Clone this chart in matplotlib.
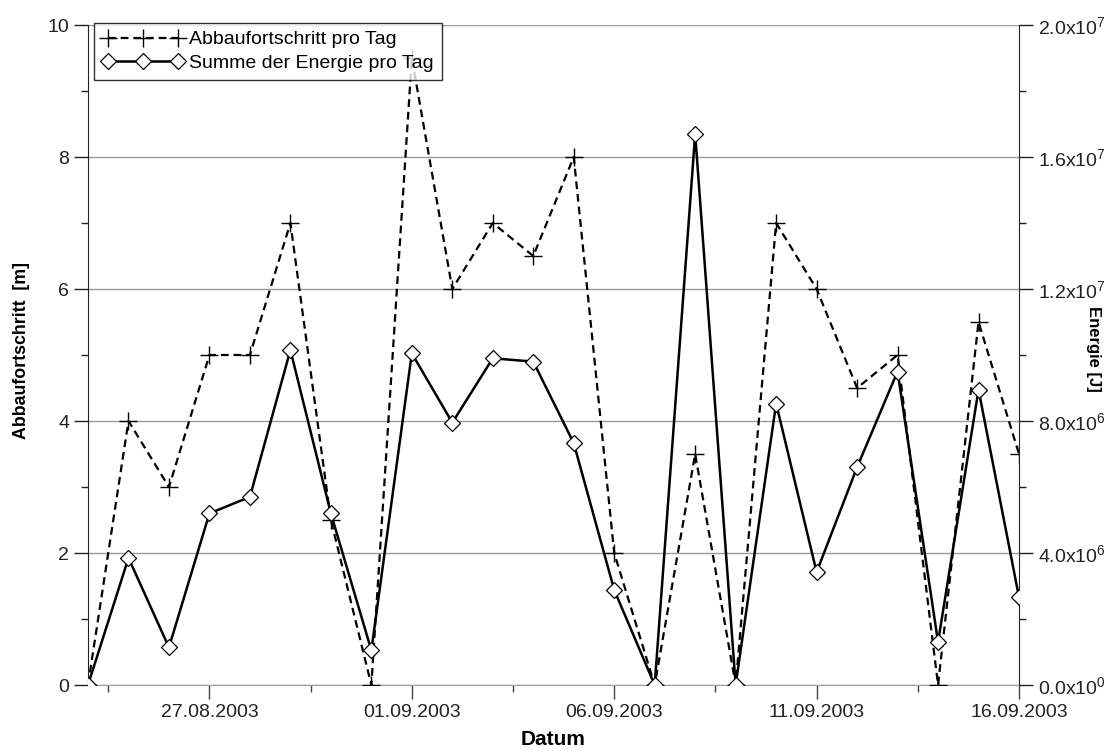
import numpy as np
import pandas as pd
import matplotlib
matplotlib.use('Agg')
import matplotlib.pyplot as plt
import matplotlib.dates as mdates
from matplotlib.ticker import FixedLocator, FuncFormatter

# daily values, 24.08.2003 - 16.09.2003
days = ['24.08.2003', '25.08.2003', '26.08.2003', '27.08.2003', '28.08.2003',
        '29.08.2003', '30.08.2003', '31.08.2003', '01.09.2003', '02.09.2003',
        '03.09.2003', '04.09.2003', '05.09.2003', '06.09.2003', '07.09.2003',
        '08.09.2003', '09.09.2003', '10.09.2003', '11.09.2003', '12.09.2003',
        '13.09.2003', '14.09.2003', '15.09.2003', '16.09.2003']
abbau = [0, 4, 3, 5, 5, 7, 2.5, 0, 9.5, 6, 7, 6.5, 8, 2, 0, 3.5, 0, 7, 6, 4.5,
         5, 0, 5.5, 3.5]
energie = [0, 3.85e6, 1.14e6, 5.2e6, 5.7e6, 10.15e6, 5.2e6, 1.05e6, 10.05e6,
           7.95e6, 9.9e6, 9.8e6, 7.33e6, 2.88e6, 0, 16.7e6, 0, 8.53e6, 3.42e6,
           6.6e6, 9.5e6, 1.3e6, 8.95e6, 2.66e6]
date_ticks = ['27.08.2003', '01.09.2003', '06.09.2003', '11.09.2003', '16.09.2003']
minor_ticks = ['24.08.2003 12:00', '29.08.2003 12:00', '03.09.2003 12:00',
               '08.09.2003 12:00', '13.09.2003 12:00']

plt.rcParams['font.family'] = ['Liberation Sans', 'DejaVu Sans']
plt.rcParams['mathtext.fontset'] = 'custom'
plt.rcParams['mathtext.rm'] = 'Liberation Sans'
plt.rcParams['mathtext.it'] = 'Liberation Sans:italic'
plt.rcParams['mathtext.bf'] = 'Liberation Sans:bold'

x = mdates.date2num(pd.to_datetime(days, format='%d.%m.%Y'))
xt = mdates.date2num(pd.to_datetime(date_ticks, format='%d.%m.%Y'))
xm = mdates.date2num(pd.to_datetime(minor_ticks, format='%d.%m.%Y %H:%M'))

fig = plt.figure(figsize=(11.13, 7.52), dpi=100)
ax = fig.add_axes([88 / 1113, 1 - 685 / 752, (1019 - 88) / 1113, (685 - 25) / 752])
ax2 = ax.twinx()

grid_c = '#9a9a9a'
l1, = ax.plot(x, abbau, color='black', lw=1.6, dashes=(3.5, 2.2),
              marker='+', ms=13, mew=1.0, label='Abbaufortschritt pro Tag', zorder=3)
l2, = ax2.plot(x, energie, color='black', lw=1.8, marker='D', ms=8,
               mfc='white', mec='black', mew=0.9,
               label='Summe der Energie pro Tag', zorder=3)

ax.set_xlim(x[0], x[-1])
ax.set_ylim(0, 10)
ax2.set_ylim(0, 2e7)

ax.set_xticks(xt)
ax.set_xticklabels(date_ticks)
ax.xaxis.set_minor_locator(FixedLocator(xm))
ax.set_yticks(np.arange(0, 11, 2))
ax.yaxis.set_minor_locator(FixedLocator(np.arange(1, 10, 2)))

ax2.set_yticks(np.arange(0, 2.01e7, 4e6))
ax2.yaxis.set_minor_locator(FixedLocator(np.arange(2e6, 2e7, 4e6)))


def sci(v, pos):
    if v == 0:
        return r'0.0x10$^{0}$'
    e = int(np.floor(np.log10(v)))
    return f'{v / 10 ** e:.1f}x10$^{{{e}}}$'


ax2.yaxis.set_major_formatter(FuncFormatter(sci))

ax.yaxis.grid(True, color=grid_c, lw=1)
ax.set_axisbelow(True)

for a in (ax, ax2):
    a.tick_params(which='major', direction='out', length=10, width=1,
                  labelsize=14, colors='#222222')
    a.tick_params(which='minor', direction='out', length=5, width=1, colors='#222222')
    a.spines['top'].set_visible(False)
ax.spines['right'].set_visible(False)
ax.spines['bottom'].set_color(grid_c)
ax.spines['left'].set_color('#222222')
ax2.spines['left'].set_visible(False)
ax2.spines['bottom'].set_visible(False)
ax2.spines['right'].set_color('#222222')
ax.tick_params(axis='x', which='both', colors='#444444', labelcolor='#222222')

ax.set_xlabel('Datum', fontsize=15, fontweight='bold', labelpad=7)
ax.set_ylabel('Abbaufortschritt  [m]', fontsize=12.8, fontweight='bold', va='center')
ax.yaxis.set_label_coords((22 - 88) / 931, (685 - 350) / 660)
ax2.set_ylabel('Energie [J]', fontsize=12, fontweight='bold', rotation=-90, va='center')
ax2.yaxis.set_label_coords((1093 - 88) / 931, (685 - 349) / 660)

leg = ax2.legend(handles=[l1, l2], loc='upper left', fontsize=14,
                 bbox_to_anchor=(94 / 1113, 1 - 23 / 752), bbox_transform=fig.transFigure,
                 borderaxespad=0, frameon=True, fancybox=False, edgecolor='black',
                 handlelength=4.2, handletextpad=0.3, labelspacing=0.3,
                 borderpad=0.4, numpoints=3)
leg.get_frame().set_linewidth(1)

fig.savefig('out.png', dpi=100)
